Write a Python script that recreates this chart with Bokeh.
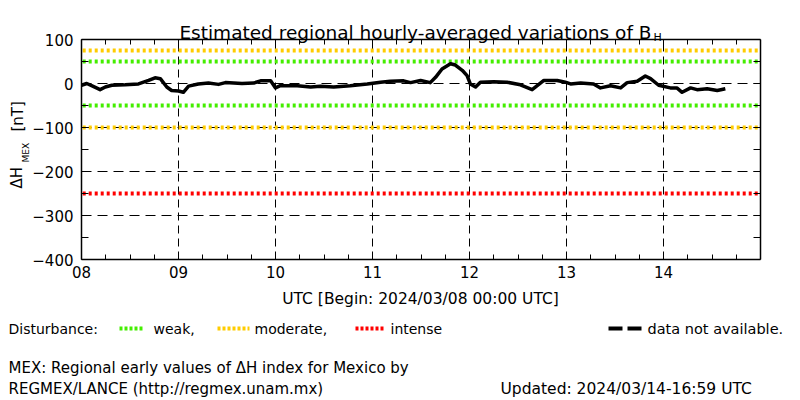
import numpy as np
from bokeh.plotting import figure
from bokeh.models import Range1d, FixedTicker, LinearAxis, CustomJSTickFormatter
from bokeh.embed import file_html
from bokeh.resources import INLINE
from bokeh.core.properties import value

# ---------------- data (hours since 2024/03/08 00:00 UTC, nT) ----------------
hours = [0.0, 1.3, 2.5, 4.6, 5.9, 7.5, 10.8, 14.1, 16.6, 18.2, 19.5, 21.1, 22.3,
         24.0, 25.2, 26.5, 28.9, 31.4, 33.9, 35.6, 39.7, 42.6, 44.3, 46.8, 48.0,
         49.2, 53.4, 56.7, 59.1, 62.4, 66.5, 70.7, 74.0, 76.4, 79.7, 81.4, 83.9,
         86.3, 87.6, 89.2, 91.3, 92.5, 94.2, 95.4, 96.2, 97.5, 98.7, 102.0, 105.3,
         108.6, 111.5, 114.4, 117.7, 119.7, 121.0, 123.5, 126.7, 128.4, 130.9,
         133.4, 135.0, 137.5, 139.5, 140.8, 142.8, 145.7, 147.3, 148.6, 150.7,
         152.3, 154.8, 157.3, 159.3]
dh = [-4, 0, -5, -14, -8, -4, -3, -1, 7, 13, 11, -8, -16,
      -17, -20, -6, -1, 1, -2, 2, 0, 1, 6, 6, -10,
      -5, -5, -8, -6, -8, -5, -1, 3, 5, 6, 2, 7,
      2, 14, 33, 45, 42, 30, 18, -1, -8, 3, 4, 3,
      -3, -14, 7, 7, 3, -1, 1, -1, -10, -5,
      -10, 2, 5, 17, 11, -4, -10, -10, -20, -10,
      -14, -12, -16, -12]

x_ticks = [0, 24, 48, 72, 96, 120, 144]
x_tick_labels = ["08", "09", "10", "11", "12", "13", "14"]
x_minor = [6, 12, 18, 30, 36, 42, 54, 60, 66, 78, 84, 90, 102, 108, 114,
           126, 132, 138, 150, 156, 162]
y_ticks = [-400, -300, -200, -100, 0, 100]
y_tick_labels = ["\u2212400", "\u2212300", "\u2212200", "\u2212100", "0", "100"]
y_minor = [-350, -250, -150, -50, 50]

weak_levels = [50, -50]
moderate_levels = [75, -100]
intense_levels = [-250]

GREEN = "#44ee00"
YELLOW = "#ffcc00"
RED = "#ff0000"
FONT = "DejaVu Sans"

# ---------------- geometry (page pixels) ----------------
W, H = 800, 400
FL, FR, FT, FB = 81, 760, 39, 259          # plot box
X0, X1 = 0, 168
Y0, Y1 = -400, 100
kx = (X1 - X0) / (FR - FL)
ky = (Y1 - Y0) / (FB - FT)
XS, XE = X0 - FL * kx, X1 + (W - FR) * kx
YS, YE = Y0 - (H - FB) * ky, Y1 + FT * ky

p = figure(width=W, height=H, x_range=Range1d(XS, XE), y_range=Range1d(YS, YE),
           output_backend="svg", toolbar_location=None, min_border=0,
           x_axis_location=None, y_axis_location=None)
p.outline_line_color = None
p.grid.visible = False
p.background_fill_color = "white"
p.border_fill_color = "white"
p.extra_x_ranges = {"px": Range1d(0, W)}
p.extra_y_ranges = {"py": Range1d(H, 0)}

xt = FixedTicker(ticks=x_ticks, minor_ticks=x_minor)
yt = FixedTicker(ticks=y_ticks, minor_ticks=y_minor)
blank = CustomJSTickFormatter(code="return ''")


def make_axis(ticker, loc, bounds, tick_len, standoff, labels=None):
    ax = LinearAxis(ticker=ticker, fixed_location=loc, bounds=bounds,
                    major_tick_in=tick_len, major_tick_out=0,
                    minor_tick_in=tick_len, minor_tick_out=0,
                    axis_line_color="black", axis_line_width=1.5,
                    major_tick_line_color="black", minor_tick_line_color="black",
                    major_label_standoff=standoff,
                    major_label_text_font=FONT,
                    major_label_text_font_size="15px",
                    major_label_text_color="black")
    if labels is None:
        ax.formatter = blank
    else:
        ax.major_label_overrides = labels
    return ax


p.add_layout(make_axis(yt, X0, (Y0, Y1), 7, 8, dict(zip(y_ticks, y_tick_labels))), "left")
p.add_layout(make_axis(yt, X1, (Y0, Y1), 7, 0), "right")
p.add_layout(make_axis(xt, Y0, (X0, X1), 5, 6, dict(zip(x_ticks, x_tick_labels))), "below")
p.add_layout(make_axis(xt, Y1, (X0, X1), 5, 0), "above")

# dashed grid
p.segment(x0=x_ticks[1:], y0=Y0, x1=x_ticks[1:], y1=Y1,
          line_color="black", line_width=1, line_dash="8 5")
p.segment(x0=X0, y0=y_ticks[1:-1], x1=X1, y1=y_ticks[1:-1],
          line_color="black", line_width=1, line_dash="10 6")

# disturbance levels
for levels, col in ((weak_levels, GREEN), (moderate_levels, YELLOW),
                    (intense_levels, RED)):
    p.segment(x0=X0 + 0.3, y0=levels, x1=X1 - 0.3, y1=levels,
              line_color=col, line_width=4, line_dash="3 3")

p.line(hours, dh, line_color="black", line_width=3.5, line_join="round")


def txt(x, y, s, align="left", size="14px", baseline="middle", angle=0.0):
    p.text(x=[x], y=[y], text=[s], x_range_name="px", y_range_name="py",
           text_align=align, text_baseline=baseline, angle=angle,
           text_font=value(FONT), text_font_size=size, text_color="black")


def sample(x0, x1, y, col, dash):
    p.line([x0, x1], [y, y], x_range_name="px", y_range_name="py",
           line_color=col, line_width=4, line_dash=dash)


# title
txt(651, 32, "Estimated regional hourly-averaged variations of B", "right",
    "18.5px", "alphabetic")
txt(653, 37, "H", "left", "11px", "alphabetic")
# y label (rotated)
txt(16, 188, "\u0394H", "left", "15px", "middle", np.pi / 2)
txt(25, 162, "MEX", "left", "9px", "middle", np.pi / 2)
txt(17, 131, "[nT]", "left", "15px", "middle", np.pi / 2)

# x label and notes
txt(420, 298, "UTC [Begin: 2024/03/08 00:00 UTC]", "center", "15.5px")
txt(8, 328, "Disturbance:")
sample(119, 143, 328, GREEN, "3 2")
txt(153, 328, "weak,")
sample(217, 249, 328, YELLOW, "3 2")
txt(254, 328, "moderate,")
sample(355, 383, 328, RED, "3 2")
txt(390, 328, "intense")
sample(608, 641, 328, "black", "14 5")
txt(647, 328, "data not available.", "left", "14.5px")
txt(8, 367, "MEX: Regional early values of \u0394H index for Mexico by", "left", "15px")
txt(8, 388, "REGMEX/LANCE (http://regmex.unam.mx)", "left", "15px")
txt(500, 388, "Updated: 2024/03/14-16:59 UTC", "left", "15.5px")

open("out.html", "w").write(file_html(p, INLINE))
